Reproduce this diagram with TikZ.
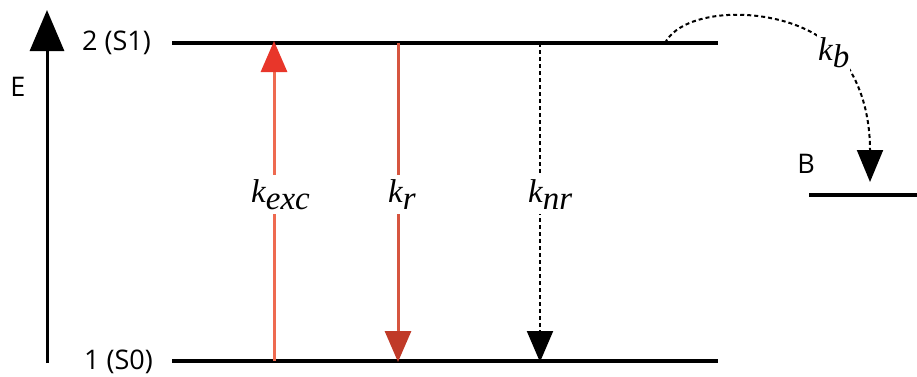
\documentclass[tikz,border=0pt]{standalone}
\usepackage{fontspec}
\usetikzlibrary{arrows.meta}
\newfontfamily\lblfont{Open Sans}
\newfontfamily\ratefont{Liberation Serif}
\definecolor{excShaft}{HTML}{EE6A50}
\definecolor{excHead}{HTML}{E8362A}
\definecolor{radShaft}{HTML}{D6553F}
\definecolor{radHead}{HTML}{C03A28}
% rate constant: italic k with a full-size, lowered subscript
\newcommand\rateconst[1]{{\ratefont\itshape\fontsize{33}{36}\selectfont k\raisebox{-7.5pt}{#1}}}
\tikzset{
  level/.style={line width=3.5pt, line cap=butt},
  lvltext/.style={font=\lblfont\fontsize{27}{30}\selectfont, inner sep=0pt},
  ratelbl/.style={fill=white, inner xsep=1pt, inner ysep=4pt},
  dashy/.style={line width=2pt, dash pattern=on 4pt off 3pt},
}
\begin{document}
\begin{tikzpicture}[x=1pt, y=-1pt]
\useasboundingbox (0,0) rectangle (917,376);

% energy levels
\coordinate (s1L) at (172,43);  \coordinate (s1R) at (718,43);
\coordinate (s0L) at (172,361); \coordinate (s0R) at (718,361);
\coordinate (bL)  at (809,195); \coordinate (bR)  at (917,195);
\draw[level] (s1L) -- (s1R);
\draw[level] (s0L) -- (s0R);
\draw[level] (bL) -- (bR);

% energy axis
\coordinate (axB) at (47,363);
\coordinate (axT) at (47,10);
\draw[line width=3pt, -{Triangle[length=41pt,width=34pt]}] (axB) -- (axT);
\node[lvltext] (E) at (18,87) {E};

% level labels
\node[lvltext, anchor=west] (lab2) at (82,43) {2 (S1)};
\node[lvltext, anchor=west] (lab1) at (84,362) {1 (S0)};
\node[lvltext] (labB) at (806,164) {B};

% excitation
\coordinate (exc0) at (274,361);
\coordinate (exc1) at (274,41);
\draw[excShaft, line width=3pt, -{Triangle[length=31pt,width=26pt,color=excHead]}] (exc0) -- (exc1);
\node[ratelbl, anchor=base west] (kexc) at (250,202) {\rateconst{exc}};

% radiative decay
\coordinate (rad1) at (398,43);
\coordinate (rad0) at (398,362);
\draw[radShaft, line width=3pt, -{Triangle[length=31pt,width=26pt,color=radHead]}] (rad1) -- (rad0);
\node[ratelbl, anchor=base west] (kr) at (387,202) {\rateconst{r}};

% non-radiative decay
\coordinate (nr1) at (540,43);
\coordinate (nr0) at (540,362);
\draw[dashy, -{Triangle[length=31pt,width=26pt]}] (nr1) -- (nr0);
\node[ratelbl, anchor=base west] (knr) at (527,202) {\rateconst{nr}};

% transfer to B
\coordinate (kb0) at (665,43);
\coordinate (kbM) at (830,45);
\coordinate (kb1) at (870,182);
\draw[dashy, -{Triangle[length=32pt,width=26pt]}]
  (kb0) .. controls (685,5) and (785,5) .. (kbM)
        .. controls (858,72) and (870,110) .. (kb1);
\node[ratelbl, anchor=base west] (kb) at (817,60) {\rateconst{b}};
\end{tikzpicture}
\end{document}
